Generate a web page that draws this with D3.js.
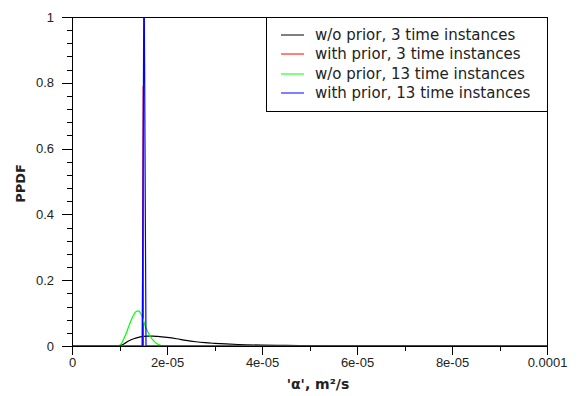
<!DOCTYPE html>
<html>
<head>
<meta charset="utf-8">
<script src="https://cdn.jsdelivr.net/npm/d3@7"></script>
<style>
  html, body { margin: 0; padding: 0; background: #fff; }
  svg { display: block; font-family: "DejaVu Sans", sans-serif; }
  .axis path, .axis line { stroke: #000; shape-rendering: crispEdges; }
  .axis text { fill: #222; font-size: 13px; }
</style>
</head>
<body>
<div id="chart"></div>
<script>
// x values in m²/s, y values PPDF
const blackX = [0, 0.95e-5, 1.0e-5, 1.1e-5, 1.2e-5, 1.3e-5, 1.4e-5, 1.5e-5, 1.6e-5, 1.7e-5, 1.8e-5, 2.0e-5, 2.2e-5, 2.4e-5, 2.6e-5, 2.8e-5, 3.0e-5, 3.5e-5, 4.0e-5, 4.5e-5, 5.0e-5, 6.0e-5, 7.0e-5, 8.0e-5, 1e-4];
const blackY = [0, 0, 0.0005, 0.007, 0.016, 0.022, 0.026, 0.029, 0.030, 0.030, 0.029, 0.026, 0.022, 0.017, 0.013, 0.010, 0.008, 0.0045, 0.0027, 0.0017, 0.0011, 0.0005, 0.0002, 0.0001, 0];

const redX = [0, 1.48e-5, 1.50e-5, 1.503e-5, 1e-4];
const redY = [0, 0, 0.79, 0, 0];

const greenX = [0, 0.95e-5, 1.0e-5, 1.05e-5, 1.1e-5, 1.15e-5, 1.2e-5, 1.25e-5, 1.3e-5, 1.35e-5, 1.4e-5, 1.45e-5, 1.5e-5, 1.55e-5, 1.6e-5, 1.65e-5, 1.7e-5, 1.75e-5, 1.8e-5, 1.85e-5, 1.9e-5, 2.0e-5, 1e-4];
const greenY = [0, 0, 0.002, 0.01, 0.025, 0.042, 0.062, 0.08, 0.095, 0.105, 0.107, 0.098, 0.08, 0.057, 0.042, 0.028, 0.019, 0.011, 0.006, 0.003, 0.001, 0, 0];

const blueX = [0, 1.48e-5, 1.516e-5, 1.558e-5, 1e-4];
const blueY = [0, 0, 1.2, 0, 0];

const xTicks = [0, 2e-5, 4e-5, 6e-5, 8e-5, 1e-4];
const xTickLabels = ["0", "2e-05", "4e-05", "6e-05", "8e-05", "0.0001"];
const xMinor = [1e-5, 3e-5, 5e-5, 7e-5, 9e-5];
const yTicks = [0, 0.2, 0.4, 0.6, 0.8, 1];
const yTickLabels = ["0", "0.2", "0.4", "0.6", "0.8", "1"];
const yMinor = [0.04, 0.08, 0.12, 0.16, 0.24, 0.28, 0.32, 0.36, 0.44, 0.48, 0.52, 0.56, 0.64, 0.68, 0.72, 0.76, 0.84, 0.88, 0.92, 0.96];

const seriesNames = ["w/o prior, 3 time instances", "with prior, 3 time instances", "w/o prior, 13 time instances", "with prior, 13 time instances"];
const seriesColors = ["#000000", "#ff0000", "#00ff00", "#0000ff"];

const width = 578, height = 396;
const margin = { left: 72, right: 31, top: 17, bottom: 50 };

const svg = d3.select('#chart').append('svg')
  .attr('width', width)
  .attr('height', height);

const x = d3.scaleLinear().domain([0, 1e-4]).range([margin.left, width - margin.right]);
const y = d3.scaleLinear().domain([0, 1]).range([height - margin.bottom, margin.top]);

svg.append('clipPath').attr('id', 'plot-clip')
  .append('rect')
  .attr('x', x(0)).attr('y', y(1))
  .attr('width', x(1e-4) - x(0)).attr('height', y(0) - y(1) + 1);

const smooth = d3.line().curve(d3.curveMonotoneX).x(d => x(d[0])).y(d => y(d[1]));
const sharp = d3.line().x(d => x(d[0])).y(d => y(d[1]));

const series = [
  { xs: blackX, ys: blackY, line: smooth },
  { xs: redX, ys: redY, line: sharp },
  { xs: greenX, ys: greenY, line: smooth },
  { xs: blueX, ys: blueY, line: sharp },
];

const plot = svg.append('g').attr('clip-path', 'url(#plot-clip)');
series.forEach((s, i) => {
  plot.append('path')
    .datum(s.xs.map((v, j) => [v, s.ys[j]]))
    .attr('fill', 'none')
    .attr('stroke', seriesColors[i])
    .attr('stroke-width', 1.2)
    .attr('d', s.line);
});

// axes
svg.append('g').attr('class', 'axis')
  .attr('transform', `translate(0,${y(0)})`)
  .call(d3.axisBottom(x).tickValues(xTicks).tickSize(9).tickSizeOuter(0).tickPadding(3)
    .tickFormat((d, i) => xTickLabels[i]));
svg.append('g').attr('class', 'axis')
  .attr('transform', `translate(0,${y(0)})`)
  .call(d3.axisBottom(x).tickValues(xMinor).tickSize(5).tickFormat(''))
  .select('.domain').remove();

svg.append('g').attr('class', 'axis')
  .attr('transform', `translate(${x(0)},0)`)
  .call(d3.axisLeft(y).tickValues(yTicks).tickSize(10).tickSizeOuter(0).tickPadding(8)
    .tickFormat((d, i) => yTickLabels[i]));
svg.append('g').attr('class', 'axis')
  .attr('transform', `translate(${x(0)},0)`)
  .call(d3.axisLeft(y).tickValues(yMinor).tickSize(5).tickFormat(''))
  .select('.domain').remove();

// top and right border
svg.append('path')
  .attr('d', `M${x(0)},${y(1)}H${x(1e-4)}V${y(0)}`)
  .attr('fill', 'none')
  .attr('stroke', '#000')
  .attr('shape-rendering', 'crispEdges');

// axis titles
svg.append('text')
  .attr('x', 318)
  .attr('y', 389)
  .attr('text-anchor', 'middle')
  .attr('font-weight', 'bold')
  .attr('font-size', 14)
  .attr('fill', '#222')
  .text("'α', m²/s");

svg.append('text')
  .attr('transform', `translate(25,${(y(0) + y(1)) / 2 + 2}) rotate(-90)`)
  .attr('text-anchor', 'middle')
  .attr('font-weight', 'bold')
  .attr('font-size', 13)
  .attr('fill', '#222')
  .text('PPDF');

// legend
const legend = svg.append('g');
legend.append('rect')
  .attr('x', 266.5).attr('y', y(1))
  .attr('width', x(1e-4) - 266.5).attr('height', 94)
  .attr('fill', '#fff')
  .attr('stroke', '#000')
  .attr('shape-rendering', 'crispEdges');

seriesNames.forEach((name, i) => {
  const ly = Math.round(34.7 + i * 19.5);
  legend.append('line')
    .attr('x1', 281).attr('x2', 304)
    .attr('y1', ly).attr('y2', ly)
    .attr('stroke', seriesColors[i])
    .attr('stroke-width', 1);
  legend.append('text')
    .attr('x', 315).attr('y', ly)
    .attr('dy', '0.35em')
    .attr('font-size', 15)
    .attr('fill', '#222')
    .text(name);
});
</script>
</body>
</html>
